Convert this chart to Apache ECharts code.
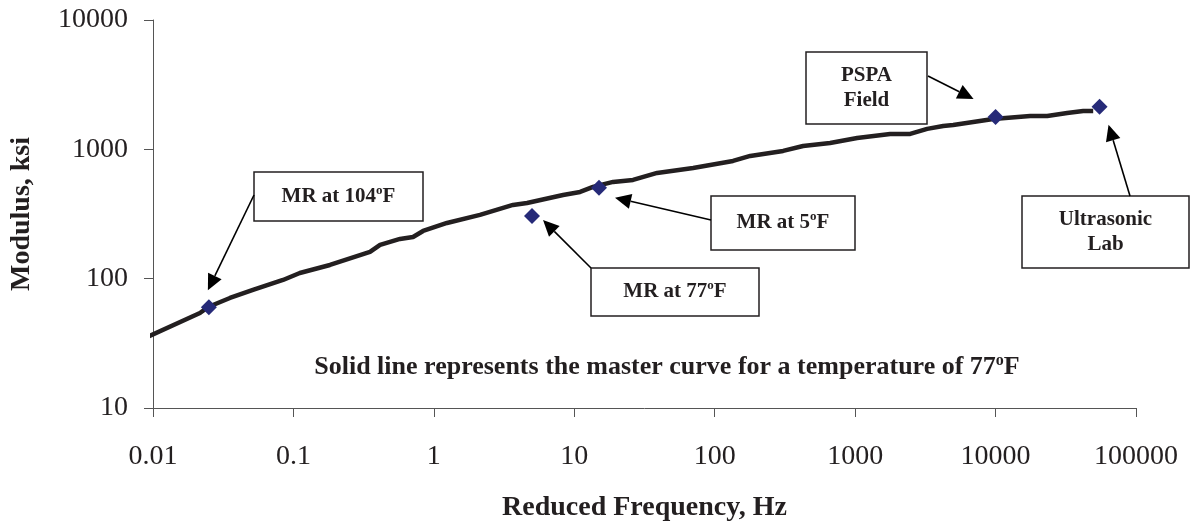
<!DOCTYPE html>
<html>
<head>
<meta charset="utf-8">
<title>Master curve</title>
<script src="https://cdn.jsdelivr.net/npm/echarts@6/dist/echarts.min.js"></script>
<style>
  html, body { margin: 0; padding: 0; background: #fff; }
  #main { width: 1190px; height: 524px; }
</style>
</head>
<body>
<div id="main"></div>
<script>
// master curve at 77F
var curveFreq = [0.0088, 0.0216, 0.0247, 0.0353, 0.0515, 0.0843, 0.111, 0.182, 0.351, 0.414, 0.574, 0.711,
                 0.838, 1.24, 2.13, 3.66, 4.61, 8.32, 11.0, 13.6, 18.9, 26.2, 38.9, 70.2, 135, 179, 307,
                 426, 663, 1033, 1775, 2466, 3258, 4236, 4991, 9616, 17630, 23330, 32360, 42070, 49560];
var curveMod = [34.8, 54.3, 60.4, 70.9, 81.8, 97.7, 110.7, 127.6, 160.9, 182.2, 202.8, 210,
                233.8, 269.7, 311, 371.5, 385, 443.9, 468.4, 512, 559.6, 580, 657, 718, 813, 889, 972,
                1062, 1121, 1225, 1316, 1316, 1439, 1517, 1544, 1718, 1813, 1813, 1912, 1982, 1982];

// measured points
var pointFreq = [0.025, 5, 15, 10000, 55000];
var pointMod = [60, 305, 505, 1780, 2130];
var pointNames = ['MR at 104{s|o}F', 'MR at 77{s|o}F', 'MR at 5{s|o}F', 'PSPA\nField', 'Ultrasonic\nLab'];

var xTickLabels = ['0.01', '0.1', '1', '10', '100', '1000', '10000', '100000'];
var yTickLabels = ['10', '100', '1000', '10000'];

var serif = '"Liberation Serif", "Times New Roman", serif';
var ink = '#231f20';

var main = document.getElementById('main');
var myChart = echarts.init(main);

var curve = [];
for (var i = 0; i < curveFreq.length; i++) curve.push([curveFreq[i], curveMod[i]]);
var points = [];
for (var j = 0; j < pointFreq.length; j++) points.push([pointFreq[j], pointMod[j]]);

var option = {
    animation: false,
    backgroundColor: '#fff',
    grid: { left: 153, right: 54, top: 20, bottom: 116, outerBoundsMode: 'none', containLabel: false },
    xAxis: {
        type: 'log',
        logBase: 10,
        min: 0.01,
        max: 100000,
        name: 'Reduced Frequency, Hz',
        nameLocation: 'middle',
        nameGap: 86,
        nameTextStyle: { fontFamily: serif, fontWeight: 'bold', fontSize: 28, color: ink },
        axisLine: { lineStyle: { color: '#555', width: 1 } },
        axisTick: { length: 9, lineStyle: { color: '#555' } },
        axisLabel: {
            margin: 35, fontFamily: serif, fontSize: 28, color: ink,
            formatter: function (v) { return xTickLabels[Math.round(Math.log10(v)) + 2]; }
        },
        splitLine: { show: false },
        minorTick: { show: false }
    },
    yAxis: {
        type: 'log',
        logBase: 10,
        min: 10,
        max: 10000,
        name: 'Modulus, ksi',
        nameLocation: 'middle',
        nameGap: 117,
        nameTextStyle: { fontFamily: serif, fontWeight: 'bold', fontSize: 28, color: ink },
        axisLine: { show: true, lineStyle: { color: '#555', width: 1 } },
        axisTick: { show: true, length: 9, lineStyle: { color: '#555' } },
        axisLabel: {
            margin: 25, fontFamily: serif, fontSize: 28, color: ink,
            formatter: function (v) { return yTickLabels[Math.round(Math.log10(v)) - 1]; }
        },
        splitLine: { show: false }
    },
    series: [
        {
            name: 'master curve',
            type: 'line',
            data: curve,
            showSymbol: false,
            clip: false,
            lineStyle: { color: ink, width: 4.5 },
            z: 2
        },
        {
            name: 'measured',
            type: 'scatter',
            data: points,
            symbol: 'diamond',
            symbolSize: 16,
            itemStyle: { color: '#262a78', opacity: 1 },
            z: 3
        }
    ]
};
myChart.setOption(option);

// callout boxes: [x, y, w, h], arrow start, tip offset from the point
var boxes = [
    { rect: [254, 172, 169, 49], from: [254, 195], off: [-1, -17] },
    { rect: [591, 268, 168, 48], from: [591, 268], off: [11, 4] },
    { rect: [711, 196, 144, 54], from: [711, 220], off: [16, 10] },
    { rect: [806, 52, 121, 72], from: [928, 76], off: [-22, -18] },
    { rect: [1022, 196, 167, 72], from: [1130, 196], off: [9, 18] }
];

var rich = { s: { fontSize: 13, fontWeight: 'bold', fontFamily: serif, color: ink, padding: [0, 0, 12, 0] } };
var graphics = [];
boxes.forEach(function (b, k) {
    var p = myChart.convertToPixel({ seriesIndex: 1 }, points[k]);
    var tip = [p[0] + b.off[0], p[1] + b.off[1]];
    var dx = tip[0] - b.from[0], dy = tip[1] - b.from[1];
    var len = Math.sqrt(dx * dx + dy * dy);
    var ux = dx / len, uy = dy / len;
    var hl = 16, hw = 7.5;
    var base = [tip[0] - ux * hl, tip[1] - uy * hl];
    graphics.push({
        type: 'rect',
        shape: { x: b.rect[0], y: b.rect[1], width: b.rect[2], height: b.rect[3] },
        style: { fill: '#fff', stroke: ink, lineWidth: 1.5 }
    });
    graphics.push({
        type: 'text',
        x: b.rect[0] + b.rect[2] / 2,
        y: b.rect[1] + b.rect[3] / 2,
        style: {
            text: pointNames[k], rich: rich, align: 'center', verticalAlign: 'middle',
            fontFamily: serif, fontWeight: 'bold', fontSize: 21, lineHeight: 25, fill: ink
        }
    });
    graphics.push({
        type: 'line',
        shape: { x1: b.from[0], y1: b.from[1], x2: base[0], y2: base[1] },
        style: { stroke: '#000', lineWidth: 1.6 }
    });
    graphics.push({
        type: 'polygon',
        shape: { points: [tip, [base[0] - uy * hw, base[1] + ux * hw], [base[0] + uy * hw, base[1] - ux * hw]] },
        style: { fill: '#000' }
    });
});

graphics.push({
    type: 'text',
    x: 667,
    y: 367,
    style: {
        text: 'Solid line represents the master curve for a temperature of 77{s|o}F',
        rich: { s: { fontSize: 16, fontWeight: 'bold', fontFamily: serif, color: ink, padding: [0, 0, 13, 0] } },
        align: 'center', verticalAlign: 'middle',
        fontFamily: serif, fontWeight: 'bold', fontSize: 26, fill: ink
    }
});

myChart.setOption({ graphic: graphics });
</script>
</body>
</html>
